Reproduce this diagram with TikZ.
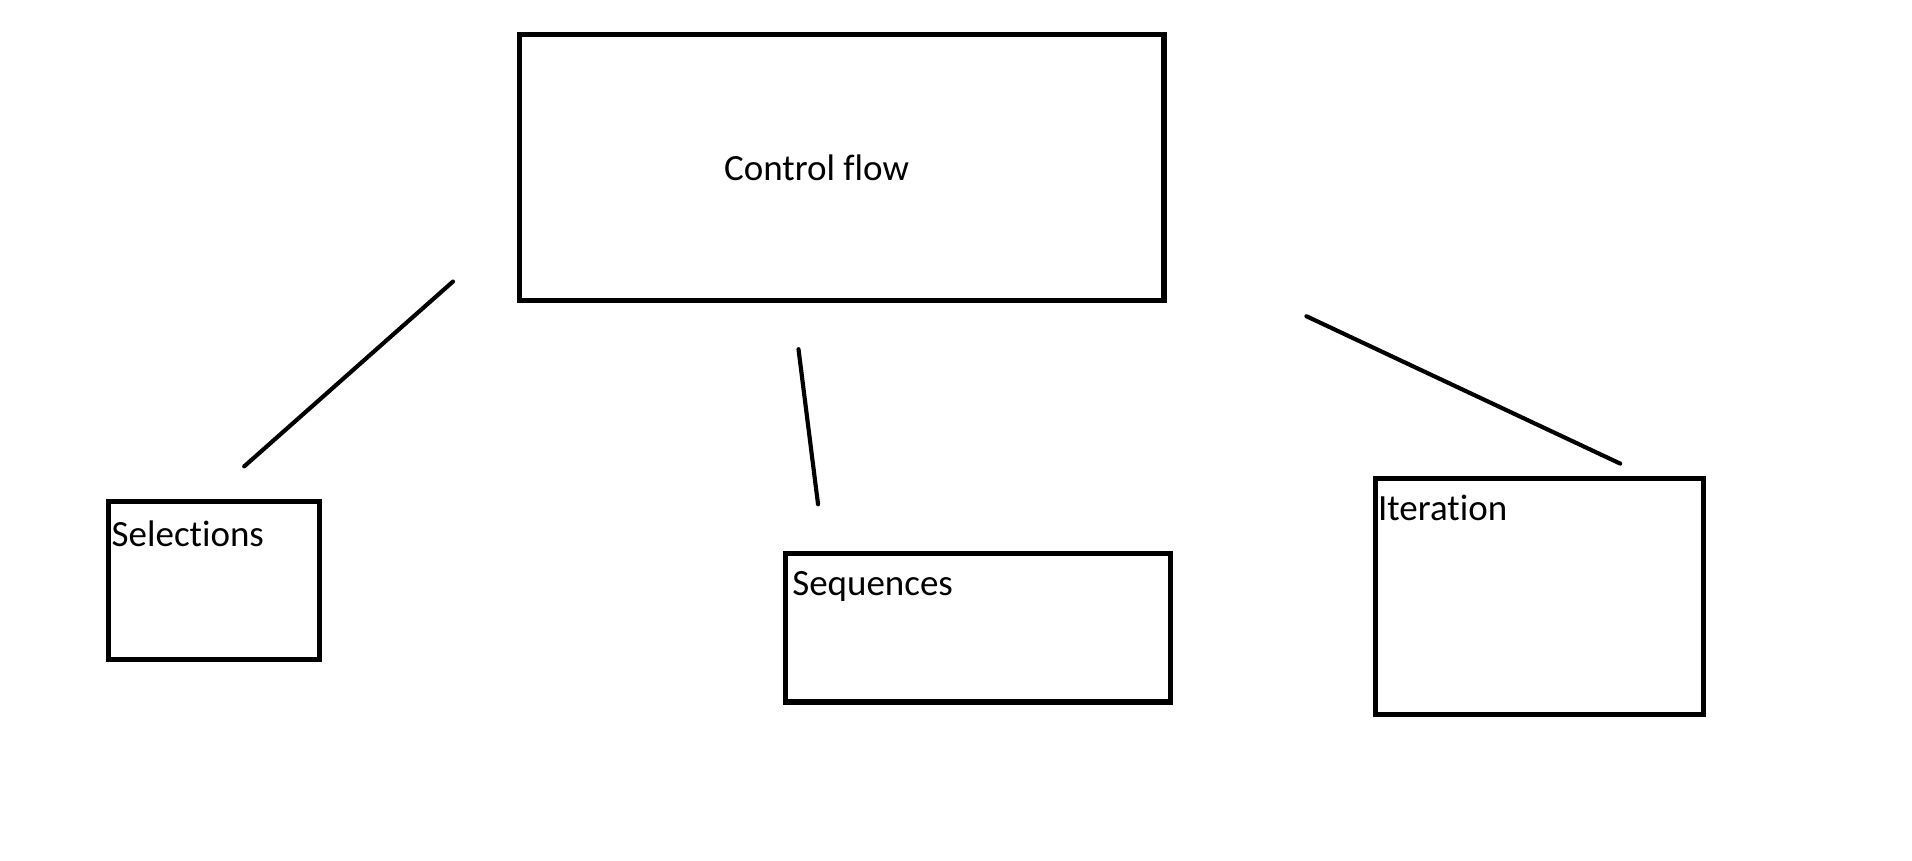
\documentclass[tikz,border=0pt]{standalone}
\usepackage{fontspec}
\setmainfont{Carlito}[Ligatures={NoCommon}]
\usepackage{tikz}

\begin{document}
\begin{tikzpicture}[
  x = 1pt, y = -1pt,
  box/.style = {draw, line width = 4.2pt, inner sep = 0pt},
  txt/.style = {inner sep = 0pt, anchor = base west, font = \fontsize{30.3}{36}\selectfont},
  link/.style = {line width = 3.4pt, line cap = round}
]

\useasboundingbox (0,0) rectangle (1566,704.4);

\node [box, minimum width = 527.8pt, minimum height = 217.5pt] (flow) at (689.5,137.35) {};
\node [box, minimum width = 172.8pt, minimum height = 129.8pt] (sel) at (175,475.5) {};
\node [box, minimum width = 314.8pt, minimum height = 121.6pt] (seq) at (801,514.2) {};
\node [box, minimum width = 268.8pt, minimum height = 193.3pt] (iter) at (1261,488.75) {};

\node [txt] (flowtext) at ([shift={(169.4,121.6)}]flow.north west) {Control flow};
\node [txt] (seltext) at ([shift={(4.8,39.4)}]sel.north west) {Selections};
\node [txt] (seqtext) at ([shift={(7.2,36.6)}]seq.north west) {Sequences};
\node [txt] (itertext) at ([shift={(4,36.6)}]iter.north west) {Iteration};

\coordinate (selfrom) at (371,230.6);
\coordinate (selto) at (200,382);
\coordinate (seqfrom) at (654,286);
\coordinate (seqto) at (670,413);
\coordinate (iterfrom) at (1070,259);
\coordinate (iterto) at (1327,379.7);

\draw [link] (selfrom) -- (selto);
\draw [link] (seqfrom) -- (seqto);
\draw [link] (iterfrom) -- (iterto);

\end{tikzpicture}
\end{document}
